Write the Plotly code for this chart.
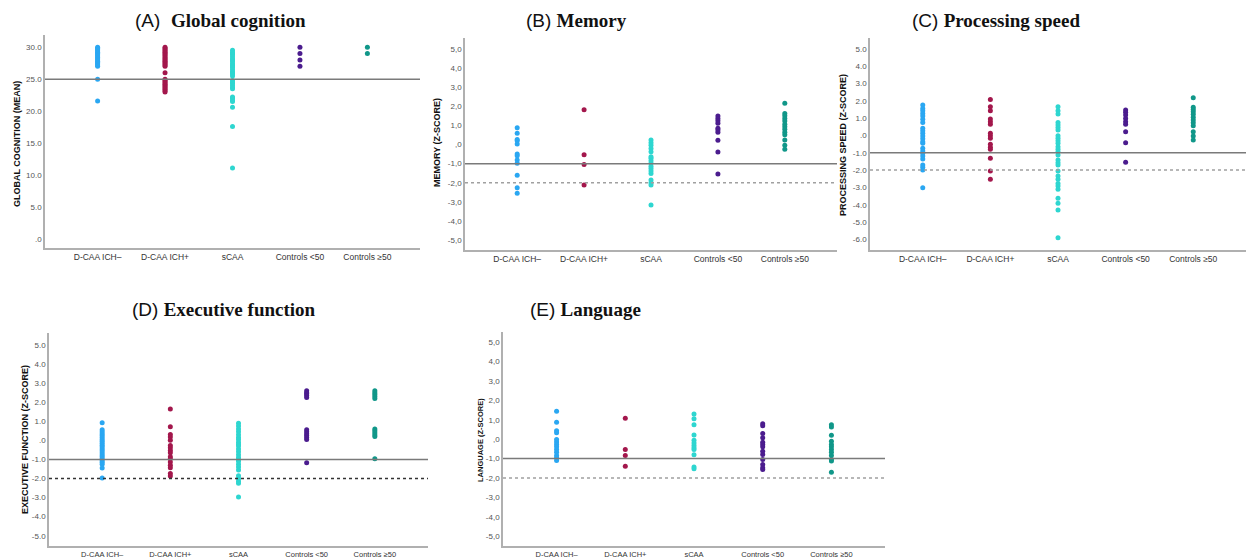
import plotly.graph_objects as go

groups = ["D-CAA ICH\u2013", "D-CAA ICH+", "sCAA", "Controls <50", "Controls \u226550"]
colors = ["#2AA7F2", "#A3174C", "#2ED6D0", "#4B1C8E", "#109789"]

# (A) Global cognition (mean)
glob_ich_neg = [30, 29.8, 29.6, 29.4, 29.2, 29, 28.8, 28.6, 28.4, 28.2, 28, 27.8, 27.6, 27.4, 27.2, 27, 25, 21.6]
glob_ich_pos = [30, 29.8, 29.6, 29.4, 29.2, 29, 28.8, 28.6, 28.4, 28.2, 28, 27.8, 27.6, 27.4, 27.2, 27, 26,
                25, 24.8, 24.6, 24.4, 24.2, 24, 23.8, 23.6, 23.4, 23.2, 23]
glob_scaa = [29.5, 29.2, 29, 28.8, 28.5, 28.2, 28, 27.8, 27.5, 27.2, 27, 26.8, 26.5, 26.2, 26, 25.8, 25.5,
             24.8, 24.5, 24.3, 24, 23.7, 23.5, 22.2, 22, 21.7, 21.5, 20.6, 17.6, 11.1]
glob_ctrl_lt50 = [30, 29, 28, 27]
glob_ctrl_ge50 = [30, 29]

# (B) Memory (z-score)
mem_ich_neg = [0.88, 0.59, 0.27, 0.2, 0.03, -0.5, -0.59, -0.81, -0.98, -1.61, -2.26, -2.55]
mem_ich_pos = [1.82, -0.53, -1.04, -2.12]
mem_scaa = [0.24, 0.09, -0.03, -0.2, -0.38, -0.64, -0.72, -0.85, -0.98, -1.13, -1.25, -1.39, -1.51,
            -1.86, -2.0, -2.12, -3.17]
mem_ctrl_lt50 = [1.49, 1.37, 1.25, 1.11, 0.85, 0.76, 0.64, 0.22, -0.39, -1.54]
mem_ctrl_ge50 = [2.17, 1.63, 1.51, 1.37, 1.23, 1.06, 0.93, 0.8, 0.64, 0.51, 0.24, -0.03, -0.24]

# (C) Processing speed (z-score)
ps_ich_neg = [1.76, 1.57, 1.43, 1.28, 1.13, 0.94, 0.76, 0.42, 0.28, 0.13, -0.03, -0.18, -0.36, -0.45,
              -0.74, -0.9, -1.03, -1.18, -1.36, -1.71, -1.84, -2.0, -3.02]
ps_ich_pos = [2.09, 1.66, 1.43, 0.95, 0.8, 0.65, 0.13, -0.01, -0.16, -0.51, -0.68, -0.8, -1.32, -2.05, -2.53]
ps_scaa = [1.66, 1.43, 1.24, 0.76, 0.61, 0.47, 0.32, -0.01, -0.16, -0.3, -0.45, -0.65, -0.8, -0.94,
           -1.13, -1.42, -1.57, -1.71, -2.05, -2.34, -2.53, -2.77, -2.92, -3.11, -3.63, -3.92, -4.3, -5.91]
ps_ctrl_lt50 = [1.47, 1.34, 1.18, 0.99, 0.8, 0.65, 0.22, -0.42, -1.55]
ps_ctrl_ge50 = [2.19, 1.63, 1.51, 1.38, 1.23, 1.05, 0.9, 0.74, 0.57, 0.22, -0.03, -0.26]

# (D) Executive function (z-score)
ef_ich_neg = [0.92, 0.55, 0.45, 0.35, 0.25, 0.15, 0.05, -0.05, -0.15, -0.25, -0.35, -0.45, -0.55,
              -0.65, -0.75, -0.85, -0.95, -1.05, -1.15, -1.25, -1.45, -1.98]
ef_ich_pos = [1.65, 0.71, 0.31, 0.17, 0.0, -0.27, -0.39, -0.53, -0.65, -0.86, -0.96, -1.14, -1.31,
              -1.43, -1.74, -1.87]
ef_scaa = [0.9, 0.75, 0.6, 0.45, 0.3, 0.15, 0.05, -0.1, -0.2, -0.3, -0.45, -0.6, -0.75, -0.9, -1.0,
           -1.1, -1.25, -1.4, -1.55, -1.85, -2.0, -2.15, -2.25, -2.97]
ef_ctrl_lt50 = [2.6, 2.5, 2.45, 2.35, 2.25, 0.55, 0.45, 0.35, 0.25, 0.15, 0.05, -1.17]
ef_ctrl_ge50 = [2.6, 2.5, 2.4, 2.3, 2.2, 0.6, 0.5, 0.4, 0.3, 0.2, -0.96]

# (E) Language (z-score)
lang_ich_neg = [1.44, 0.87, 0.44, 0.33, -0.02, -0.14, -0.27, -0.39, -0.53, -0.67, -0.84, -0.96, -1.1]
lang_ich_pos = [1.08, -0.53, -0.84, -1.39]
lang_scaa = [1.3, 1.06, 0.75, 0.22, -0.05, -0.19, -0.33, -0.44, -0.53, -0.8, -1.44, -1.52]
lang_ctrl_lt50 = [0.8, 0.7, 0.29, 0.07, -0.16, -0.27, -0.39, -0.62, -0.79, -1.05, -1.3, -1.47, -1.56]
lang_ctrl_ge50 = [0.75, 0.63, 0.2, -0.11, -0.27, -0.39, -0.53, -0.67, -0.84, -1.05, -1.13, -1.7]

W, H = 1246, 558

panels = [
    dict(letter="(A)  ", name="Global cognition", ytitle="GLOBAL COGNITION (MEAN)",
         data=[glob_ich_neg, glob_ich_pos, glob_scaa, glob_ctrl_lt50, glob_ctrl_ge50],
         box=(45, 420, 35, 248), yr=(-1.4, 31.9), ticks=[0, 5, 10, 15, 20, 25, 30], sep=".",
         solid=25, dotted=None, dotcol="#999999", title_xy=(133, 20), ytitle_xy=(17, 144), ytfs=9),
    dict(letter="(B) ", name="Memory", ytitle="MEMORY (Z-SCORE)",
         data=[mem_ich_neg, mem_ich_pos, mem_scaa, mem_ctrl_lt50, mem_ctrl_ge50],
         box=(465, 837, 38, 250), yr=(-5.52, 5.58), ticks=list(range(-5, 6)), sep=",",
         solid=-1, dotted=-2, dotcol="#a0a0a0", title_xy=(524, 21), ytitle_xy=(437, 143), ytfs=9),
    dict(letter="(C) ", name="Processing speed", ytitle="PROCESSING SPEED (Z-SCORE)",
         data=[ps_ich_neg, ps_ich_pos, ps_scaa, ps_ctrl_lt50, ps_ctrl_ge50],
         box=(870, 1246, 38, 250), yr=(-6.62, 5.64), ticks=list(range(-6, 6)), sep=".",
         solid=-1, dotted=-2, dotcol="#a0a0a0", title_xy=(910, 20), ytitle_xy=(843, 145), ytfs=9),
    dict(letter="(D) ", name="Executive function", ytitle="EXECUTIVE FUNCTION (Z-SCORE)",
         data=[ef_ich_neg, ef_ich_pos, ef_scaa, ef_ctrl_lt50, ef_ctrl_ge50],
         box=(49, 428, 333, 546), yr=(-5.54, 5.63), ticks=list(range(-5, 6)), sep=".",
         solid=-1, dotted=-2, dotcol="#333333", title_xy=(130, 309), ytitle_xy=(25, 440), ytfs=9),
    dict(letter="(E) ", name="Language", ytitle="LANGUAGE (Z-SCORE)",
         data=[lang_ich_neg, lang_ich_pos, lang_scaa, lang_ctrl_lt50, lang_ctrl_ge50],
         box=(503, 885, 332, 546), yr=(-5.51, 5.53), ticks=list(range(-5, 6)), sep=",",
         solid=-1, dotted=-2, dotcol="#a0a0a0", title_xy=(528, 309), ytitle_xy=(480, 440), ytfs=7.5),
]


def fmt(v, sep):
    if v == 0:
        return sep + "0"
    return ("%d" % v) + sep + "0"


fig = go.Figure()
layout = dict(width=W, height=H, margin=dict(l=0, r=0, t=0, b=0), paper_bgcolor="white",
              plot_bgcolor="white", showlegend=False, shapes=[], annotations=[])

for i, p in enumerate(panels):
    n = "" if i == 0 else str(i + 1)
    xa, ya = "x" + n, "y" + n
    x0, x1, y0, y1 = p["box"]
    for g, (vals, col) in enumerate(zip(p["data"], colors)):
        fig.add_trace(go.Scatter(x=[g] * len(vals), y=vals, mode="markers", xaxis=xa, yaxis=ya,
                                 marker=dict(size=5, color=col, line=dict(width=0)),
                                 name=groups[g], hoverinfo="y"))
    fs_x = 7.5 if i >= 3 else 8.5
    layout["xaxis" + n] = dict(domain=[x0 / W, x1 / W], anchor=ya, range=[-0.78, 4.78],
                               tickvals=list(range(5)), ticktext=groups, showgrid=False,
                               zeroline=False, showline=True, linecolor="#b0b0b0", linewidth=1.5,
                               ticks="", tickfont=dict(family="Liberation Sans", size=fs_x, color="#333"),
                               fixedrange=True)
    layout["yaxis" + n] = dict(domain=[1 - y1 / H, 1 - y0 / H], anchor=xa, range=list(p["yr"]),
                               tickvals=p["ticks"], ticktext=[fmt(t, p["sep"]) for t in p["ticks"]],
                               showgrid=False, zeroline=False, showline=True, linecolor="#b0b0b0",
                               linewidth=1.5, ticks="",
                               tickfont=dict(family="Liberation Sans", size=8, color="#555"),
                               fixedrange=True)
    layout["shapes"].append(dict(type="line", xref=xa + " domain", yref=ya, x0=0, x1=1,
                                 y0=p["solid"], y1=p["solid"],
                                 line=dict(color="#7a7a7a", width=1.5)))
    if p["dotted"] is not None:
        layout["shapes"].append(dict(type="line", xref=xa + " domain", yref=ya, x0=0, x1=1,
                                     y0=p["dotted"], y1=p["dotted"],
                                     line=dict(color=p["dotcol"], width=1.5, dash="dot")))
    tx, ty = p["title_xy"]
    layout["annotations"].append(dict(
        xref="paper", yref="paper", x=tx / W, y=1 - ty / H, xanchor="left", yanchor="middle",
        showarrow=False,
        text="<span style='font-family:Liberation Sans;font-weight:normal'>" + p["letter"] +
             "</span><b>" + p["name"] + "</b>",
        font=dict(family="Liberation Serif", size=19, color="#111")))
    ax, ay = p["ytitle_xy"]
    layout["annotations"].append(dict(
        xref="paper", yref="paper", x=ax / W, y=1 - ay / H, xanchor="center", yanchor="middle",
        showarrow=False, textangle=-90, text="<b>" + p["ytitle"] + "</b>",
        font=dict(family="Liberation Sans", size=p["ytfs"], color="#111")))

fig.update_layout(**layout)
fig.write_html("out.html", config={"displayModeBar": False},
               post_script="document.body.style.margin='0';document.body.style.overflow='hidden';")
